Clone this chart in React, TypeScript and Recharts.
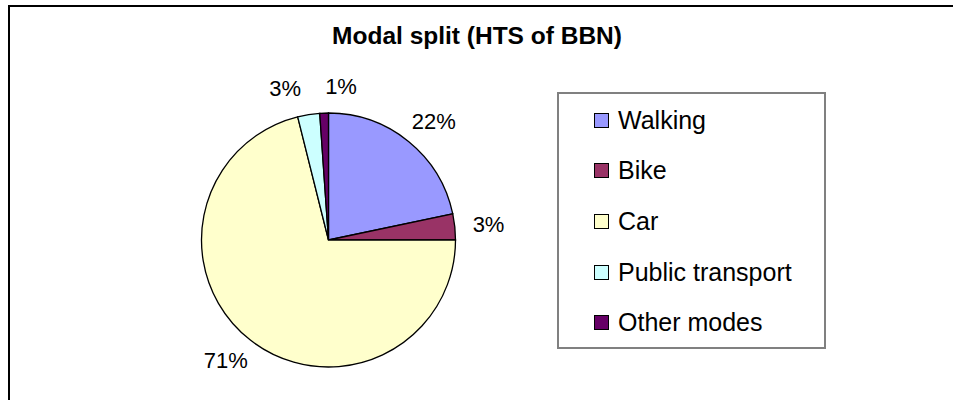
import React from 'react';
import { PieChart, Pie, Cell, Legend } from 'recharts';

const categories = ['Walking', 'Bike', 'Car', 'Public transport', 'Other modes'];
const shares = [21.7, 3.3, 71.1, 2.8, 1.1];
const colors = ['#9999FF', '#993366', '#FFFFCC', '#CCFFFF', '#660066'];
const title = 'Modal split (HTS of BBN)';

const data = categories.map((name, i) => ({ name, value: shares[i] }));

const FONT = '"Liberation Sans", Arial, sans-serif';
const LABEL_FS = 22;
const LABEL_GAP = 18;
const LABEL_PAD = 24;

const labelText = (v: number, total: number) => `${Math.round((v / total) * 100)}%`;

function textWidth(t: string, fs: number) {
  let w = 0;
  for (const ch of t) w += ch === '%' ? 0.889 : 0.556;
  return w * fs;
}

function layoutLabels(cx: number, cy: number, r: number) {
  const total = shares.reduce((a, b) => a + b, 0);
  let acc = 0;
  const pos = shares.map((v) => {
    const mid = ((acc + v / 2) / total) * 2 * Math.PI;
    acc += v;
    const t = labelText(v, total);
    const w = textWidth(t, LABEL_FS);
    const h = LABEL_FS * 0.75;
    const s = Math.sin(mid);
    const c = Math.cos(mid);
    const px = cx + (r + LABEL_GAP) * s;
    const py = cy - (r + LABEL_GAP) * c;
    return { x: px + (w / 2) * s, y: py - (h / 2) * c, w, h, t };
  });
  for (let it = 0; it < 5; it++) {
    for (let i = 0; i < pos.length; i++) {
      for (let j = i + 1; j < pos.length; j++) {
        const a = pos[i];
        const b = pos[j];
        const need = (a.w + b.w) / 2 + LABEL_PAD;
        const dx = b.x - a.x;
        if (Math.abs(dx) < need && Math.abs(b.y - a.y) < a.h + b.h) {
          const push = (need - Math.abs(dx)) / 2;
          const left = a.x <= b.x ? a : b;
          const right = left === a ? b : a;
          left.x -= push;
          right.x += push;
        }
      }
    }
  }
  return pos;
}

const renderLabel = (props: any) => {
  const { cx, cy, outerRadius, index } = props;
  const pos = layoutLabels(cx, cy, outerRadius)[index];
  return (
    <text
      x={pos.x}
      y={pos.y}
      textAnchor="middle"
      dominantBaseline="central"
      fontFamily={FONT}
      fontSize={LABEL_FS}
      fill="#000"
    >
      {pos.t}
    </text>
  );
};

const renderLegend = (props: any) => {
  const payload = [...(props.payload || [])].sort(
    (a: any, b: any) => categories.indexOf(a.value) - categories.indexOf(b.value)
  );
  return (
    <div
      style={{
        boxSizing: 'border-box',
        width: 269,
        height: 257,
        border: '2px solid #808080',
        background: '#fff',
        paddingTop: 1,
      }}
    >
      {payload.map((entry: any, i: number) => (
        <div
          key={i}
          style={{
            height: 50.6,
            display: 'flex',
            alignItems: 'center',
            paddingLeft: 35,
            fontFamily: FONT,
            fontSize: 25,
            color: '#000',
            whiteSpace: 'nowrap',
          }}
        >
          <span
            style={{
              display: 'inline-block',
              boxSizing: 'border-box',
              width: 15,
              height: 15,
              background: entry.color,
              border: '1.5px solid #000',
              marginRight: 9,
            }}
          />
          <span>{entry.value}</span>
        </div>
      ))}
    </div>
  );
};

export default function App() {
  return (
    <div style={{ position: 'absolute', left: 0, top: 0, width: 953, height: 400, background: '#fff', overflow: 'hidden' }}>
      <div
        style={{
          position: 'absolute',
          left: 8,
          top: 5,
          width: 960,
          height: 410,
          borderLeft: '2px solid #000',
          borderTop: '2px solid #000',
        }}
      />
      <div
        style={{
          position: 'absolute',
          left: 277,
          width: 400,
          top: 22,
          textAlign: 'center',
          fontFamily: FONT,
          fontWeight: 'bold',
          fontSize: 24.5,
          color: '#000',
          lineHeight: '28px',
          whiteSpace: 'nowrap',
        }}
      >
        {title}
      </div>
      <div style={{ position: 'absolute', left: 0, top: 0 }}>
        <PieChart width={953} height={400}>
          <Pie
            data={data}
            dataKey="value"
            nameKey="name"
            cx={323.5}
            cy={235}
            outerRadius={127}
            startAngle={90}
            endAngle={-270}
            stroke="#000"
            strokeWidth={1.3}
            label={renderLabel}
            labelLine={false}
            isAnimationActive={false}
          >
            {data.map((d, i) => (
              <Cell key={d.name} fill={colors[i]} />
            ))}
          </Pie>
          <Legend
            content={renderLegend}
            layout="vertical"
            itemSorter={null as any}
            wrapperStyle={{ position: 'absolute', left: 557, top: 92, width: 269, height: 257 }}
          />
        </PieChart>
      </div>
    </div>
  );
}
